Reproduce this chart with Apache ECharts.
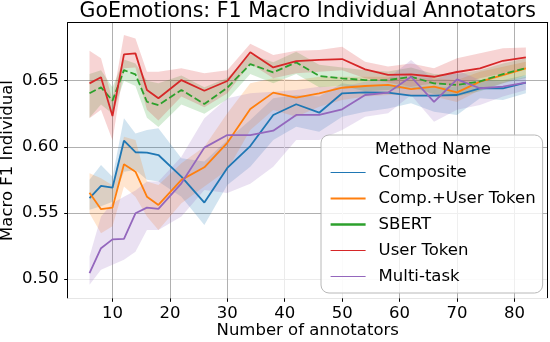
<!DOCTYPE html>
<html>
<head>
<meta charset="utf-8">
<script src="https://cdn.jsdelivr.net/npm/echarts@6/dist/echarts.min.js"></script>
<style>
  html, body { margin: 0; padding: 0; background: #fff; }
  #chart { width: 550px; height: 342px; }
</style>
</head>
<body>
<div id="chart"></div>
<script>
'use strict';

// x positions (number of annotators)
const annotators = [6, 8, 10, 12, 14, 16, 18, 22, 26, 30, 34, 38, 42, 46, 50, 54, 58, 62, 66, 70, 74, 78, 82];

// tick labels
const xTicks = [10, 20, 30, 40, 50, 60, 70, 80];
const yTicks = [0.50, 0.55, 0.60, 0.65];

const methodNames = ['Composite', 'Comp.+User Token', 'SBERT', 'User Token', 'Multi-task'];

// mean macro F1 per method
const compositeMean = [0.5611, 0.5704, 0.5691, 0.6046, 0.5959, 0.5956, 0.5938, 0.5774, 0.5578, 0.584, 0.6006, 0.6241, 0.6322, 0.6258, 0.6405, 0.6412, 0.641, 0.6387, 0.6387, 0.6392, 0.6443, 0.6443, 0.6485];
const compUserMean = [0.5653, 0.5528, 0.554, 0.5868, 0.5812, 0.5623, 0.556, 0.575, 0.5845, 0.603, 0.6286, 0.641, 0.6372, 0.6405, 0.6447, 0.646, 0.6468, 0.6437, 0.6455, 0.6412, 0.6493, 0.6543, 0.6594];
const sbertMean = [0.6405, 0.645, 0.6349, 0.658, 0.6548, 0.6341, 0.6316, 0.643, 0.6324, 0.6447, 0.6626, 0.6563, 0.6639, 0.6536, 0.6518, 0.6505, 0.6505, 0.653, 0.648, 0.6468, 0.6495, 0.655, 0.6596];
const userTokenMean = [0.648, 0.6526, 0.6233, 0.670, 0.6707, 0.643, 0.6367, 0.6505, 0.6424, 0.6498, 0.6715, 0.6601, 0.6649, 0.6657, 0.6664, 0.6586, 0.6545, 0.6548, 0.653, 0.6566, 0.6594, 0.6651, 0.6677];
const multiTaskMean = [0.5044, 0.5233, 0.530, 0.5303, 0.5497, 0.554, 0.553, 0.5724, 0.5994, 0.6089, 0.6089, 0.6122, 0.6241, 0.6241, 0.6284, 0.6392, 0.641, 0.653, 0.634, 0.651, 0.6443, 0.6455, 0.6485];

// confidence band upper / lower edges
const compositeHi = [0.575, 0.5863, 0.5774, 0.6216, 0.610, 0.6127, 0.614, 0.5913, 0.5888, 0.6052, 0.6203, 0.6367, 0.6392, 0.638, 0.648, 0.6455, 0.6462, 0.6455, 0.6455, 0.6455, 0.6505, 0.6505, 0.6543];
const compositeLo = [0.5523, 0.555, 0.5585, 0.5812, 0.5825, 0.575, 0.5737, 0.5623, 0.5409, 0.5712, 0.585, 0.6052, 0.6152, 0.6114, 0.6228, 0.6266, 0.629, 0.633, 0.6266, 0.624, 0.6367, 0.6354, 0.6405];
const compUserHi = [0.580, 0.5762, 0.571, 0.6077, 0.6052, 0.5737, 0.5712, 0.5876, 0.600, 0.6254, 0.648, 0.6518, 0.6505, 0.653, 0.653, 0.653, 0.653, 0.6518, 0.6518, 0.6505, 0.6568, 0.6606, 0.6644];
const compUserLo = [0.5497, 0.5346, 0.540, 0.570, 0.5623, 0.5472, 0.5371, 0.5574, 0.570, 0.5825, 0.6127, 0.6278, 0.6228, 0.6303, 0.6354, 0.638, 0.6392, 0.6392, 0.638, 0.634, 0.643, 0.648, 0.6543];
const sbertHi = [0.655, 0.658, 0.645, 0.666, 0.663, 0.650, 0.648, 0.654, 0.645, 0.652, 0.670, 0.664, 0.672, 0.662, 0.660, 0.658, 0.657, 0.660, 0.655, 0.655, 0.658, 0.663, 0.667];
const sbertLo = [0.622, 0.632, 0.625, 0.650, 0.646, 0.622, 0.615, 0.632, 0.625, 0.636, 0.655, 0.648, 0.655, 0.645, 0.646, 0.642, 0.643, 0.645, 0.640, 0.638, 0.642, 0.648, 0.652];
const userTokenHi = [0.6727, 0.667, 0.6354, 0.6846, 0.682, 0.6568, 0.6568, 0.6594, 0.6556, 0.658, 0.678, 0.6694, 0.6727, 0.6732, 0.6757, 0.6644, 0.6608, 0.663, 0.6594, 0.667, 0.6707, 0.6745, 0.6752];
const userTokenLo = [0.6216, 0.628, 0.605, 0.6594, 0.660, 0.628, 0.620, 0.638, 0.630, 0.6405, 0.663, 0.6518, 0.6556, 0.6568, 0.658, 0.6518, 0.6486, 0.6455, 0.648, 0.6455, 0.6518, 0.6556, 0.6594];
const multiTaskHi = [0.517, 0.5472, 0.5574, 0.5623, 0.567, 0.5737, 0.5737, 0.5925, 0.6216, 0.6367, 0.6405, 0.6417, 0.643, 0.6455, 0.6455, 0.6493, 0.6518, 0.6657, 0.6505, 0.658, 0.6505, 0.6493, 0.653];
const multiTaskLo = [0.4956, 0.507, 0.5107, 0.5145, 0.5207, 0.537, 0.537, 0.5472, 0.5674, 0.565, 0.572, 0.585, 0.6052, 0.6052, 0.6127, 0.6228, 0.6254, 0.6392, 0.619, 0.628, 0.6316, 0.638, 0.643];

const means = [compositeMean, compUserMean, sbertMean, userTokenMean, multiTaskMean];
const highs = [compositeHi, compUserHi, sbertHi, userTokenHi, multiTaskHi];
const lows = [compositeLo, compUserLo, sbertLo, userTokenLo, multiTaskLo];
const colors = ['#1f77b4', '#ff7f0e', '#2ca02c', '#d62728', '#9467bd'];

const FONT = 'DejaVu Sans';

const chart = echarts.init(document.getElementById('chart'), null, { renderer: 'canvas' });

// 置信带多边形：上沿从左到右，下沿从右到左
function renderBand(params, api) {
    const i = params.dataIndex;
    const pts = [];
    annotators.forEach((x, k) => pts.push(api.coord([x, highs[i][k]])));
    for (let k = annotators.length - 1; k >= 0; k--) {
        pts.push(api.coord([annotators[k], lows[i][k]]));
    }
    return {
        type: 'polygon',
        shape: { points: pts },
        style: { fill: colors[i], opacity: 0.2 },
        silent: true
    };
}

const series = [];
methodNames.forEach((name, i) => {
    series.push({
        name: name,
        type: 'line',
        data: annotators.map((x, k) => [x, means[i][k]]),
        symbol: 'none',
        color: colors[i],
        lineStyle: {
            color: colors[i],
            width: 1.8,
            type: name === 'SBERT' ? [7, 3] : 'solid'
        },
        z: 3
    });
});
series.push({
    name: 'bands',
    type: 'custom',
    renderItem: renderBand,
    data: methodNames.map((n, i) => [annotators[0], means[i][0]]),
    silent: true,
    z: 1
});

const legendWidths = [1.2, 2.2, 2.6, 1.2, 1.2];

const option = {
    animation: false,
    backgroundColor: '#fff',
    textStyle: { fontFamily: FONT },
    grid: { left: 67.7, right: 2.3, top: 22.7, bottom: 43.7, outerBoundsMode: 'none' },
    graphic: [
        {
            type: 'text',
            x: 307.7,
            y: 12,
            style: {
                text: 'GoEmotions: F1 Macro Individual Annotators',
                font: '20.5px "DejaVu Sans"',
                fill: '#000',
                align: 'center',
                verticalAlign: 'middle'
            }
        },
        {
            type: 'text',
            x: 433,
            y: 149.3,
            z: 100,
            style: {
                text: 'Method Name',
                font: '16.5px "DejaVu Sans"',
                fill: '#000',
                align: 'center',
                verticalAlign: 'middle'
            }
        }
    ],
    legend: {
        orient: 'vertical',
        left: 321,
        top: 135,
        padding: [29, 7, 8, 8.3],
        itemGap: 9,
        itemWidth: 35,
        itemHeight: 12,
        backgroundColor: 'rgba(255,255,255,0.8)',
        borderColor: '#b8b8b8',
        borderWidth: 1,
        borderRadius: 8,
        textStyle: { fontFamily: FONT, fontSize: 16.5, color: '#000', padding: [0, 0, 0, 8] },
        data: methodNames.map((n, i) => ({
            name: n,
            itemStyle: { opacity: 0 },
            lineStyle: { color: colors[i], width: legendWidths[i], type: 'solid' }
        }))
    },
    xAxis: [
        {
            type: 'value',
            min: 2.2,
            max: 85.8,
            name: 'Number of annotators',
            nameLocation: 'middle',
            nameGap: 24,
            nameMoveOverlap: false,
            nameTextStyle: { fontFamily: FONT, fontSize: 16.5, color: '#000' },
            axisLine: { show: true, onZero: false, lineStyle: { color: '#e6e6e6', width: 1 } },
            axisTick: { show: true, length: 3.5, customValues: xTicks, lineStyle: { color: '#000', width: 1 } },
            axisLabel: { customValues: xTicks, margin: 7, fontFamily: FONT, fontSize: 16.5, color: '#000' },
            splitLine: {
                show: true,
                lineStyle: { color: ['#b0b0b0', '#b0b0b0', '#b0b0b0', '#ebebeb', '#ebebeb', '#b0b0b0', '#b0b0b0', '#b0b0b0'], width: 1 }
            }
        },
        {
            type: 'value',
            position: 'top',
            min: 2.2,
            max: 85.8,
            axisLine: { show: true, onZero: false, lineStyle: { color: '#000', width: 1 } },
            axisTick: { show: false },
            axisLabel: { show: false },
            splitLine: { show: false }
        }
    ],
    yAxis: [
        {
            type: 'value',
            min: 0.4854,
            max: 0.6939,
            name: 'Macro F1 Individual',
            nameLocation: 'middle',
            nameGap: 51,
            nameMoveOverlap: false,
            nameTextStyle: { fontFamily: FONT, fontSize: 16.5, color: '#000' },
            axisLine: { show: true, onZero: false, lineStyle: { color: '#000', width: 1 } },
            axisTick: { show: true, length: 3.5, customValues: yTicks, lineStyle: { color: '#000', width: 1 } },
            axisLabel: {
                customValues: yTicks,
                margin: 9,
                fontFamily: FONT,
                fontSize: 16.5,
                color: '#000',
                formatter: v => v.toFixed(2)
            },
            splitLine: {
                show: true,
                lineStyle: { color: ['#ebebeb', '#b0b0b0', '#b0b0b0', '#b0b0b0'], width: 1 }
            }
        },
        {
            type: 'value',
            position: 'right',
            min: 0.4854,
            max: 0.6939,
            axisLine: { show: true, onZero: false, lineStyle: { color: '#000', width: 1 } },
            axisTick: { show: false },
            axisLabel: { show: false },
            splitLine: { show: false }
        }
    ],
    series: series
};

chart.setOption(option);
</script>
</body>
</html>
